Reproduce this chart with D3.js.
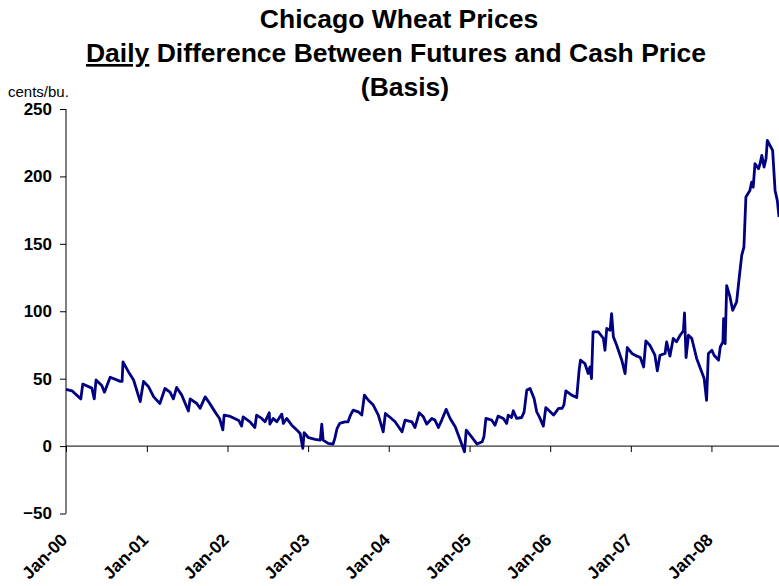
<!DOCTYPE html>
<html>
<head>
<meta charset="utf-8">
<script src="https://cdn.jsdelivr.net/npm/d3@7"></script>
<style>
  body { margin: 0; background: #fff; }
  svg { display: block; }
  text { font-family: Arial, "Liberation Sans", sans-serif; }
</style>
</head>
<body>
<div id="chart"></div>
<script>
// basis, cents/bu.
var dates = ["2000-01-01","2000-01-28","2000-03-08","2000-03-17","2000-04-27","2000-05-08","2000-05-16","2000-06-11","2000-06-23","2000-07-19",
  "2000-09-03","2000-09-11","2000-09-15","2000-10-10","2000-11-02","2000-12-02","2000-12-17","2001-01-09","2001-02-01","2001-03-01",
  "2001-03-24","2001-04-16","2001-05-01","2001-05-16","2001-06-08","2001-07-08","2001-07-16","2001-08-15","2001-08-30","2001-09-22",
  "2001-10-07","2001-11-07","2001-11-26","2001-12-11","2001-12-17","2002-01-14","2002-02-21","2002-03-06","2002-03-13","2002-04-13",
  "2002-05-05","2002-05-13","2002-06-05","2002-06-20","2002-07-09","2002-07-12","2002-07-27","2002-08-12","2002-09-04","2002-09-11",
  "2002-09-26","2002-10-19","2002-11-11","2002-11-26","2002-12-08","2002-12-14","2003-01-03","2003-02-02","2003-02-25","2003-03-04",
  "2003-03-10","2003-04-02","2003-04-24","2003-05-02","2003-05-12","2003-05-24","2003-06-16","2003-07-01","2003-07-12","2003-07-24",
  "2003-08-16","2003-09-01","2003-09-13","2003-10-01","2003-10-23","2003-11-15","2003-12-07","2003-12-17","2004-01-08","2004-01-30",
  "2004-03-01","2004-03-15","2004-04-15","2004-04-29","2004-05-18","2004-06-06","2004-06-21","2004-07-14","2004-07-28","2004-08-13",
  "2004-08-28","2004-09-17","2004-10-05","2004-10-28","2004-11-20","2004-12-09","2004-12-17","2005-01-04","2005-02-04","2005-02-27",
  "2005-03-07","2005-03-16","2005-04-11","2005-04-26","2005-05-10","2005-06-03","2005-06-18","2005-06-25","2005-07-10","2005-07-18",
  "2005-08-02","2005-08-25","2005-09-05","2005-09-17","2005-10-02","2005-10-20","2005-11-01","2005-11-13","2005-12-01","2005-12-12",
  "2005-12-24","2006-01-16","2006-02-08","2006-02-23","2006-03-04","2006-03-13","2006-04-08","2006-05-01","2006-05-12","2006-05-18",
  "2006-06-07","2006-06-22","2006-06-30","2006-07-07","2006-07-14","2006-08-07","2006-08-30","2006-09-06","2006-09-14","2006-09-29",
  "2006-10-06","2006-10-14","2006-10-29","2006-11-21","2006-12-06","2006-12-16","2007-01-06","2007-01-29","2007-02-13","2007-02-28",
  "2007-03-10","2007-03-28","2007-04-20","2007-05-01","2007-05-13","2007-06-05","2007-06-12","2007-06-27","2007-07-12","2007-07-27",
  "2007-08-12","2007-08-27","2007-09-01","2007-09-08","2007-09-19","2007-10-04","2007-10-26","2007-11-18","2007-11-29","2007-12-10",
  "2007-12-18","2008-01-03","2008-01-13","2008-02-02","2008-02-10","2008-02-22","2008-02-25","2008-03-03","2008-03-10","2008-03-25",
  "2008-04-06","2008-04-24","2008-05-06","2008-05-17","2008-05-27","2008-06-05","2008-06-23","2008-07-01","2008-07-08","2008-07-16",
  "2008-08-01","2008-08-08","2008-08-16","2008-08-26","2008-09-04","2008-09-10","2008-09-22","2008-10-04","2008-10-15","2008-10-25",
  "2008-11-02"];
var basis = [42,41,35,46,43,35,49,45,40,51,
  48,48,62.5,55,49,33,48,44,36.5,31.6,
  42.7,40,35,43.5,37.8,26,35,31.6,28,36.5,
  33,25,20.5,12,23,22,19,14.8,21.7,18,
  13.8,23,20.5,18,24.7,16.3,20.5,18,23.7,16.8,
  20.5,15.5,11.9,9.4,-1.7,9.9,6.2,5,4.4,16.3,
  4.4,2,1.5,5.7,13,16.8,18,18,23,26.7,
  25.4,23,37.8,34,30.4,23,10.6,24.2,21.2,18,
  10.6,19.3,18,13.8,24.7,21.7,16.3,20.5,19.3,13.8,
  19.3,27.2,20.5,14.3,4.4,-4.2,11.9,8.1,1.5,3.2,
  6.9,20.5,19.3,15.5,22.2,20.5,16.8,23,21.2,26.2,
  20.5,21.2,25.4,41.5,42.7,35.3,25.4,21.7,14.8,28.5,
  26.7,23,27.9,27.9,30.4,41,37.8,36,56.3,63.7,
  61.2,53.8,58.7,50.1,84.7,84.7,79.8,71.1,87.2,85.9,
  98.3,81,74.8,63.7,53.8,73.1,68.7,66.7,65.7,58.7,
  78,74.8,67.4,55.8,67.4,68.7,77.3,66.7,79.8,77.3,
  82.2,85.4,98.7,65.7,82.2,79.8,65,55,50.1,34,
  68.7,71.1,67.4,63.7,73.6,77.3,94.6,76,119,110.6,
  100.7,106.9,125.4,141.5,147.6,184.7,189.6,195.8,192,209.4,
  205.7,209.4,215.6,206.9,213.1,226.7,223,219.3,189.6,182.2,
  169.9];
var yTicks = [-50, 0, 50, 100, 150, 200, 250];
var xTickLabels = ["Jan-00","Jan-01","Jan-02","Jan-03","Jan-04","Jan-05","Jan-06","Jan-07","Jan-08"];

var width = 779, height = 586;
var parse = d3.timeParse("%Y-%m-%d");
var data = dates.map(function(d, i) { return { date: parse(d), value: basis[i] }; });
var xTicks = xTickLabels.map(function(s, i) { return new Date(2000 + i, 0, 1); });

var svg = d3.select("#chart").append("svg")
    .attr("width", width)
    .attr("height", height);

svg.append("rect").attr("width", width).attr("height", height).attr("fill", "#fff");

// one year is about 80.7px, the plot runs off the right edge
var x = d3.scaleTime()
    .domain([new Date(2000, 0, 1), new Date(2009, 0, 1)])
    .range([66, 66 + 9 * 80.7]);
var y = d3.scaleLinear()
    .domain([-50, 250])
    .range([513.5, 109]);

// title
var title = svg.append("g").attr("font-weight", "bold").attr("font-size", 26.5).attr("text-anchor", "middle");
title.append("text").attr("x", 399).attr("y", 28).text("Chicago Wheat Prices");
var t2 = title.append("text").attr("x", 396).attr("y", 62);
t2.append("tspan").attr("text-decoration", "underline").text("Daily");
t2.append("tspan").text(" Difference Between Futures and Cash Price");
title.append("text").attr("x", 405).attr("y", 96).text("(Basis)");

svg.append("text")
    .attr("x", 8).attr("y", 97)
    .attr("font-size", 15)
    .text("cents/bu.");

// y axis
var yAxis = svg.append("g")
    .attr("transform", "translate(66,0)")
    .call(d3.axisLeft(y).tickValues(yTicks).tickSize(6).tickPadding(8).tickFormat(d3.format("d")));
yAxis.selectAll("path,line").attr("stroke", "#000");
yAxis.select(".domain").attr("d", "M0," + y(250) + "V" + y(-50));
yAxis.selectAll("text")
    .attr("font-size", 17).attr("font-weight", "bold")
    .attr("font-family", "Arial, 'Liberation Sans', sans-serif")
    .attr("fill", "#000");

// x axis sits on zero, labels hang below the -50 line
var xAxis = svg.append("g")
    .attr("transform", "translate(0," + y(0) + ")")
    .call(d3.axisBottom(x).tickValues(xTicks).tickSize(6).tickFormat(function(d, i) { return xTickLabels[i]; }));
xAxis.selectAll("path,line").attr("stroke", "#000");
xAxis.select(".domain").attr("d", "M66,0H" + width);
xAxis.selectAll("text")
    .attr("x", 0).attr("y", 0).attr("dy", 0)
    .attr("transform", "translate(2," + (541 - y(0)) + ") rotate(-45)")
    .style("text-anchor", "end")
    .attr("font-size", 17.5).attr("font-weight", "bold")
    .attr("font-family", "Arial, 'Liberation Sans', sans-serif")
    .attr("fill", "#000");

var line = d3.line()
    .x(function(d) { return x(d.date); })
    .y(function(d) { return y(d.value); });

svg.append("path")
    .datum(data)
    .attr("fill", "none")
    .attr("stroke", "#000080")
    .attr("stroke-width", 2.8)
    .attr("stroke-linejoin", "round")
    .attr("d", line);
</script>
</body>
</html>
